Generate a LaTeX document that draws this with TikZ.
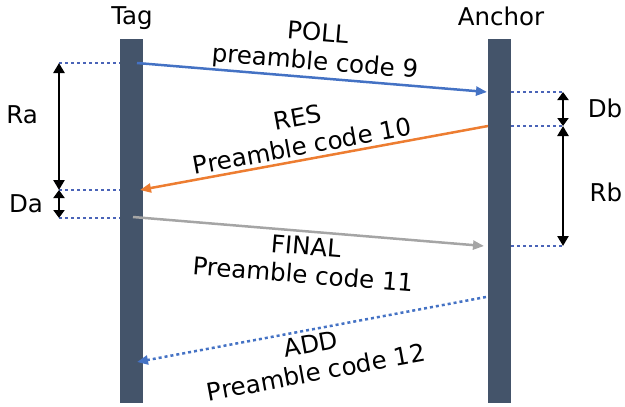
\documentclass[tikz,border=0pt]{standalone}
\usepackage{fontspec}
\setmainfont{DejaVu Sans}
\usetikzlibrary{arrows.meta}

\definecolor{barcol}{HTML}{44546A}
\definecolor{pollblue}{HTML}{4472C4}
\definecolor{resorange}{HTML}{ED7D31}
\definecolor{finalgray}{HTML}{A5A5A5}
\definecolor{levelblue}{HTML}{4A64B8}

\begin{document}
\begin{tikzpicture}[x=1pt, y=-1pt,
    font=\fontsize{24.5}{31}\selectfont,
    lifeline/.style={fill=barcol, minimum width=23pt, minimum height=364pt, inner sep=0pt},
    msg/.style={line width=2.5pt, -{Triangle[length=11pt,width=9pt]}},
    level/.style={levelblue, line width=2.5pt, dash pattern=on 3pt off 3pt},
    span/.style={line width=2.8pt, {Triangle[length=10pt,width=11pt]}-{Triangle[length=10pt,width=11pt]}},
    shortspan/.style={line width=2.8pt, {Triangle[length=8pt,width=11pt]}-{Triangle[length=8pt,width=11pt]}},
    msglabel/.style={inner sep=0pt}]

	\useasboundingbox (0,0) rectangle (625,407);

	% Lifelines
	\node[lifeline] (tagbar) at (131.5,221) {};
	\node[lifeline] (anchorbar) at (499.5,221) {};
	\node (tag) at (132,18) {Tag};
	\node (anchor) at (501,16) {Anchor};

	% Message end points
	\coordinate (poll1) at (137,63);
	\coordinate (poll2) at (487,92);
	\coordinate (res1) at (488,126);
	\coordinate (res2) at (140,190);
	\coordinate (fin1) at (133,217);
	\coordinate (fin2) at (484,246);
	\coordinate (add1) at (486,297);
	\coordinate (add2) at (137,362);

	% Messages
	\draw[msg, pollblue] (poll1) -- (poll2);
	\draw[msg, resorange] (res1) -- (res2);
	\draw[msg, finalgray] (fin1) -- (fin2);
	\draw[msg, pollblue, dash pattern=on 3pt off 3pt] (add1) -- (add2);

	\node[msglabel, rotate=-4.7] (polltitle) at (318,32) {POLL};
	\node[msglabel, rotate=-4.7] (pollcode) at (315,63) {preamble code 9};
	\node[msglabel, rotate=10.4] (restitle) at (298,117) {RES};
	\node[msglabel, rotate=10.4] (rescode) at (302,146) {Preamble code 10};
	\node[msglabel, rotate=-4.7] (fintitle) at (306,246) {FINAL};
	\node[msglabel, rotate=-4.7] (fincode) at (303,274) {Preamble code 11};
	\node[msglabel, rotate=10.5] (addtitle) at (311,344) {ADD};
	\node[msglabel, rotate=10.5] (addcode) at (316,372) {Preamble code 12};

	% Time spans at the tag
	\coordinate (ra1) at (59,63);
	\coordinate (ra2) at (59,190);
	\coordinate (da2) at (59,218);
	\draw[level] (ra1) -- (tagbar.west |- ra1);
	\draw[level] (ra2) -- (tagbar.west |- ra2);
	\draw[level] (da2) -- (tagbar.west |- da2);
	\draw[span] (ra1) -- (ra2);
	\draw[shortspan] (ra2) -- (da2);
	\node (ra) at (22,115) {Ra};
	\node (da) at (26,204) {Da};

	% Time spans at the anchor
	\coordinate (db1) at (563,92);
	\coordinate (db2) at (563,126);
	\coordinate (rb2) at (563,246);
	\draw[level] (anchorbar.east |- db1) -- (db1);
	\draw[level] (anchorbar.east |- db2) -- (db2);
	\draw[level] (anchorbar.east |- rb2) -- (rb2);
	\draw[shortspan] (db1) -- (db2);
	\draw[span] (db2) -- (rb2);
	\node (db) at (605,108) {Db};
	\node (rb) at (606,192) {Rb};
\end{tikzpicture}
\end{document}
